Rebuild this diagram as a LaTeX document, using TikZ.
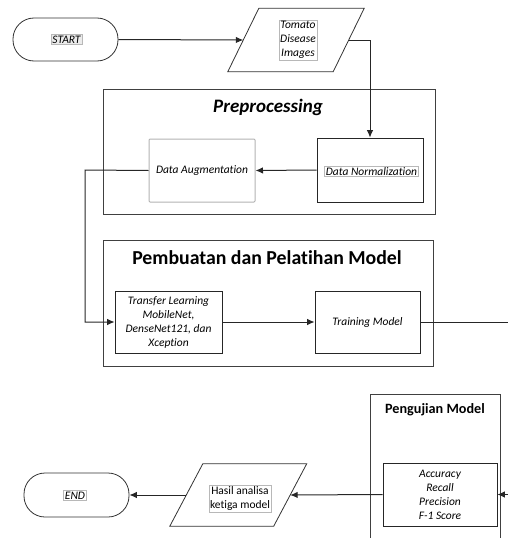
\documentclass[tikz,border=0pt]{standalone}
\usepackage{fontspec}
\setmainfont{Carlito}[Ligatures=NoCommon]
\usetikzlibrary{arrows.meta}
\begin{document}
\begin{tikzpicture}[x=1pt,y=-1pt,
  arr/.style={-{Latex[length=7.5pt,width=6.5pt]}, line width=1pt, draw=black!85},
  plain/.style={line width=1pt, draw=black!85},
  term/.style={draw=black!80, line width=0.8pt, rounded corners=21pt, minimum width=105pt, minimum height=43pt, inner sep=0pt},
  iobox/.style={minimum width=#1, minimum height=63pt, inner sep=0pt},
  iodraw/.style={draw=black!80, line width=0.8pt},
  box/.style={draw=black!85, line width=0.8pt, minimum width=106pt, minimum height=63pt, inner sep=2pt, align=center, font=\fontsize{11.5}{14}\selectfont\itshape},
  graybox/.style={box, draw=black!30, line width=1pt, rounded corners=1pt},
  container/.style={draw=black!75, line width=1pt, inner sep=0pt},
  lbl/.style={draw=black!28, line width=0.5pt, inner sep=1.2pt, align=center, font=\fontsize{11.5}{14}\selectfont\itshape},
  title/.style={inner sep=0pt, font=\bfseries}
]
\useasboundingbox (0,0) rectangle (507,538);

% containers
\node[container, minimum width=332pt, minimum height=125pt] (prep) at (269,151.5) {};
\node[title, font=\fontsize{19}{21}\selectfont\bfseries\itshape] (preptitle) at (268,107) {Preprocessing};
\node[container, minimum width=330pt, minimum height=126pt] (pemb) at (268,303) {};
\node[title, font=\fontsize{19.8}{22}\selectfont\bfseries] (pembtitle) at (267,258) {Pembuatan dan Pelatihan Model};
\node[container, minimum width=130pt, minimum height=170pt] (peng) at (435,479) {};
\node[title, font=\fontsize{14.2}{16}\selectfont\bfseries] (pengtitle) at (435,410) {Pengujian Model};

% start / end
\node[term] (start) at (65.5,39.5) {};
\node[lbl, fill=black!8] (startlbl) at (66.5,39.5) {START};
\node[term, minimum height=44pt] (end) at (76.5,495) {};
\node[lbl] (endlbl) at (75,495.5) {END};

% tomato input
\node[iobox=105pt] (tomato) at (296,40) {};
\draw[iodraw] ([xshift=15.5pt]tomato.north west) -- ([xshift=15.5pt]tomato.north east)
  -- ([xshift=-15.5pt]tomato.south east) -- ([xshift=-15.5pt]tomato.south west) -- cycle;
\node[lbl] (tomlbl) at (298,40) {Tomato\\Disease\\Images};

% hasil output
\node[iobox=103.5pt, minimum height=62pt] (hasil) at (238.25,495) {};
\draw[iodraw] ([xshift=16.5pt]hasil.north west) -- ([xshift=16.5pt]hasil.north east)
  -- ([xshift=-16.5pt]hasil.south east) -- ([xshift=-16.5pt]hasil.south west) -- cycle;
\node[lbl, font=\fontsize{11.5}{14.5}\selectfont] (hasillbl) at (240,498.5) {Hasil analisa\\ketiga model};

% process boxes
\node[graybox] (aug) at (202,170.5) {Data Augmentation};
\node[box, minimum height=64pt] (norm) at (370,170) {};
\node[lbl] (normlbl) at (371.5,171.5) {Data Normalization};
\node[box, minimum width=107pt, minimum height=62pt] (tl) at (168.5,322) {Transfer Learning\\MobileNet,\\DenseNet121, dan\\Xception};
\node[box, minimum width=105pt, minimum height=62pt] (tm) at (367.5,322) {Training Model};
\node[box, minimum width=114pt, minimum height=63pt] (acc) at (440,494.5) {Accuracy\\Recall\\Precision\\F-1 Score};

% connectors
\coordinate (c1) at (85,170);
\coordinate (c2) at (508,322);
\coordinate (c3) at (508,494.5);
\draw[arr] (start.east) -- (tomato.west);
\draw[arr] (tomato.east) -| (norm.north);
\draw[arr] (norm.west) -- (aug.east);
\draw[arr] (aug.west) -- (c1) |- (tl.west);
\draw[arr] (tl.east) -- (tm.west);
\draw[plain] (tm.east) -- (c2);
\draw[arr] (c3) -- (acc.east);
\draw[arr] (acc.west) -- (hasil.east);
\draw[arr] (hasil.west) -- (end.east);
\end{tikzpicture}
\end{document}
